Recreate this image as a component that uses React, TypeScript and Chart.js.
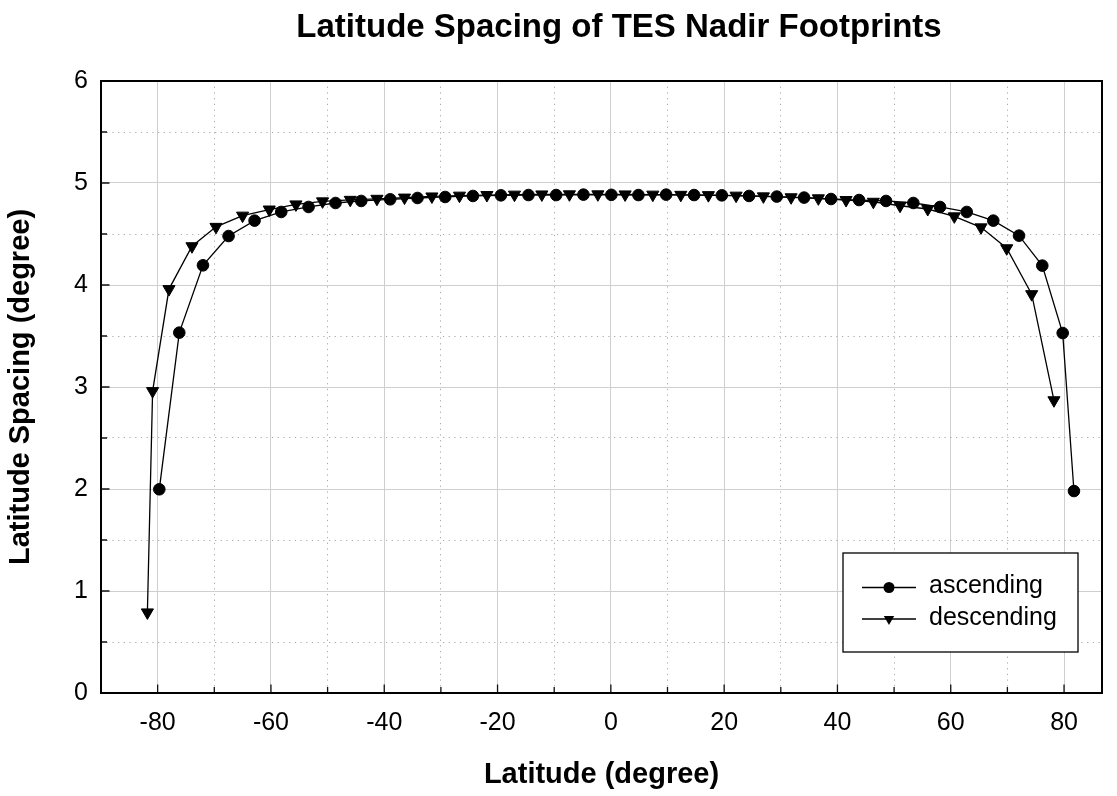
import { useEffect, useRef } from 'react';
import { Chart, registerables } from 'chart.js';

Chart.register(...registerables);

const FONT = '"Liberation Sans", Arial, Helvetica, sans-serif';

const CHART_TITLE = 'Latitude Spacing of TES Nadir Footprints';
const X_TITLE = 'Latitude (degree)';
const Y_TITLE = 'Latitude Spacing (degree)';
const SERIES_NAMES = ['ascending', 'descending'];

const X_MIN = -90;
const X_MAX = 86.7;
const X_STEP = 10;
const Y_MIN = 0;
const Y_MAX = 6;
const Y_STEP = 0.5;

const ascLat = [
  -79.71, -76.18, -72.0, -67.48, -62.89, -58.18, -53.36, -48.6, -44.06, -38.95,
  -34.13, -29.24, -24.35, -19.41, -14.54, -9.65, -4.84, 0.09, 4.87, 9.76,
  14.7, 19.59, 24.4, 29.29, 34.11, 38.87, 43.82, 48.58, 53.4, 58.11,
  62.82, 67.51, 72.05, 76.16, 79.76, 81.75,
];
const ascSpacing = [
  1.997, 3.533, 4.193, 4.48, 4.631, 4.716, 4.765, 4.804, 4.824, 4.84,
  4.853, 4.863, 4.873, 4.879, 4.882, 4.882, 4.886, 4.884, 4.882, 4.886,
  4.882, 4.879, 4.873, 4.867, 4.857, 4.843, 4.833, 4.824, 4.804, 4.765,
  4.716, 4.631, 4.484, 4.19, 3.529, 1.98,
];

const descLat = [
  -81.81, -80.89, -78.0, -73.94, -69.7, -65.01, -60.3, -55.59, -50.89, -46.0,
  -41.29, -36.42, -31.59, -26.72, -21.88, -17.01, -12.18, -7.31, -2.29, 2.52,
  7.41, 12.35, 17.22, 22.11, 26.93, 31.82, 36.63, 41.52, 46.34, 51.05,
  55.94, 60.63, 65.34, 69.88, 74.29, 78.22,
];
const descSpacing = [
  0.79, 2.96, 3.96, 4.38, 4.57, 4.68, 4.74, 4.79, 4.82, 4.835,
  4.845, 4.857, 4.868, 4.876, 4.882, 4.886, 4.888, 4.889, 4.889, 4.888,
  4.886, 4.884, 4.881, 4.876, 4.869, 4.86, 4.85, 4.833, 4.816, 4.777,
  4.745, 4.673, 4.565, 4.36, 3.91, 2.87,
];

const toPoints = (xs: number[], ys: number[]) => xs.map((x, i) => ({ x, y: ys[i] }));

const isMultiple = (v: number, m: number) => {
  const r = Math.abs(v / m - Math.round(v / m));
  return r < 1e-6;
};

const titlePlugin = {
  id: 'customTitle',
  afterDraw(chart: any) {
    const ctx = chart.ctx;
    ctx.save();
    ctx.fillStyle = '#000';
    ctx.font = `bold 33px ${FONT}`;
    ctx.textAlign = 'center';
    ctx.textBaseline = 'alphabetic';
    ctx.fillText(CHART_TITLE, 619, 37);
    ctx.restore();
  },
};

const framePlugin = {
  id: 'frameTicks',
  afterDatasetsDraw(chart: any) {
    const ctx = chart.ctx;
    const { left, right, top, bottom } = chart.chartArea;
    const xs = chart.scales.x;
    const ys = chart.scales.y;
    ctx.save();
    ctx.strokeStyle = '#111';
    ctx.lineWidth = 1.3;
    ctx.beginPath();
    xs.ticks.forEach((t: any) => {
      const px = xs.getPixelForValue(t.value);
      if (px <= left + 2 || px >= right - 2) return;
      const len = isMultiple(t.value, 20) ? 8.5 : 6;
      ctx.moveTo(px, bottom);
      ctx.lineTo(px, bottom - len);
    });
    ys.ticks.forEach((t: any) => {
      const py = ys.getPixelForValue(t.value);
      if (py <= top + 2 || py >= bottom - 2) return;
      const len = isMultiple(t.value, 1) ? 8.5 : 6;
      ctx.moveTo(left, py);
      ctx.lineTo(left + len, py);
    });
    ctx.stroke();
    ctx.strokeStyle = '#000';
    ctx.lineWidth = 2;
    ctx.strokeRect(left, top, right - left, bottom - top);
    ctx.restore();
  },
};

const legendPlugin = {
  id: 'boxLegend',
  afterDatasetsDraw(chart: any) {
    const ctx = chart.ctx;
    const bx = 843;
    const by = 553;
    const bw = 235;
    const bh = 99;
    ctx.save();
    ctx.fillStyle = '#fff';
    ctx.fillRect(bx, by, bw, bh);
    ctx.strokeStyle = '#000';
    ctx.lineWidth = 1.3;
    ctx.strokeRect(bx, by, bw, bh);
    const rows = [587.5, 619];
    chart.data.datasets.forEach((ds: any, i: number) => {
      const y = rows[i];
      ctx.strokeStyle = '#000';
      ctx.lineWidth = 1.3;
      ctx.beginPath();
      ctx.moveTo(862, y);
      ctx.lineTo(916, y);
      ctx.stroke();
      ctx.fillStyle = '#000';
      ctx.beginPath();
      if (ds.pointStyle === 'circle') {
        ctx.arc(889, y, 5.5, 0, Math.PI * 2);
      } else {
        const r = 6;
        ctx.moveTo(889 - r * 0.866, y - r / 2);
        ctx.lineTo(889 + r * 0.866, y - r / 2);
        ctx.lineTo(889, y + r);
        ctx.closePath();
      }
      ctx.fill();
      ctx.font = `25px ${FONT}`;
      ctx.textAlign = 'left';
      ctx.textBaseline = 'middle';
      ctx.fillText(ds.label, 929, y - 1);
    });
    ctx.restore();
  },
};

export default function App() {
  const canvasRef = useRef<HTMLCanvasElement | null>(null);

  useEffect(() => {
    if (!canvasRef.current) return;
    const chart = new Chart(canvasRef.current, {
      type: 'line',
      data: {
        datasets: [
          {
            label: SERIES_NAMES[0],
            data: toPoints(ascLat, ascSpacing),
            borderColor: '#000',
            backgroundColor: '#000',
            borderWidth: 1.3,
            pointStyle: 'circle',
            pointRadius: 5.8,
            pointBorderWidth: 1,
            pointBackgroundColor: '#000',
            pointBorderColor: '#000',
            tension: 0,
            fill: false,
          },
          {
            label: SERIES_NAMES[1],
            data: toPoints(descLat, descSpacing),
            borderColor: '#000',
            backgroundColor: '#000',
            borderWidth: 1.3,
            pointStyle: 'triangle',
            pointRotation: 180,
            pointRadius: 7,
            pointBorderWidth: 1,
            pointBackgroundColor: '#000',
            pointBorderColor: '#000',
            tension: 0,
            fill: false,
          },
        ],
      },
      options: {
        animation: false,
        responsive: true,
        maintainAspectRatio: false,
        parsing: false as any,
        layout: { padding: { top: 81, right: 15, left: 0, bottom: 0 } },
        plugins: {
          legend: { display: false },
          title: { display: false },
          tooltip: { enabled: false },
        },
        scales: {
          x: {
            type: 'linear',
            min: X_MIN,
            max: X_MAX,
            afterFit: (s: any) => {
              s.height = 103;
            },
            ticks: {
              stepSize: X_STEP,
              includeBounds: false,
              autoSkip: false,
              maxRotation: 0,
              padding: 15,
              color: '#000',
              font: { family: FONT, size: 25 },
              callback: (v: any) => (isMultiple(Number(v), 20) && Number(v) > X_MIN ? String(v) : ''),
            },
            grid: {
              drawTicks: false,
              lineWidth: 1,
              color: (c: any) => (c.tick && !isMultiple(c.tick.value, 20) ? '#a8a8a8' : '#cfcfcf'),
            },
            border: {
              display: false,
              dash: (c: any) => (c.tick && !isMultiple(c.tick.value, 20) ? [1.2, 4.5] : []),
            },
            title: {
              display: true,
              text: X_TITLE,
              color: '#000',
              font: { family: FONT, size: 29, weight: 'bold' },
              padding: { top: 0, bottom: 4 },
            },
          },
          y: {
            type: 'linear',
            min: Y_MIN,
            max: Y_MAX,
            afterFit: (s: any) => {
              s.width = 101;
            },
            ticks: {
              stepSize: Y_STEP,
              autoSkip: false,
              padding: 13,
              color: '#000',
              font: { family: FONT, size: 25 },
              callback: (v: any) => (isMultiple(Number(v), 1) ? String(v) : ''),
            },
            grid: {
              drawTicks: false,
              lineWidth: 1,
              color: (c: any) => (c.tick && !isMultiple(c.tick.value, 1) ? '#a8a8a8' : '#cfcfcf'),
            },
            border: {
              display: false,
              dash: (c: any) => (c.tick && !isMultiple(c.tick.value, 1) ? [1.2, 4.5] : []),
            },
            title: {
              display: true,
              text: Y_TITLE,
              color: '#000',
              font: { family: FONT, size: 29, weight: 'bold' },
              padding: { top: 4, bottom: 0 },
            },
          },
        },
      } as any,
      plugins: [titlePlugin, framePlugin, legendPlugin],
    });
    return () => chart.destroy();
  }, []);

  return (
    <div style={{ position: 'fixed', left: 0, top: 0, width: 1117, height: 796, background: '#fff' }}>
      <canvas ref={canvasRef} />
    </div>
  );
}
